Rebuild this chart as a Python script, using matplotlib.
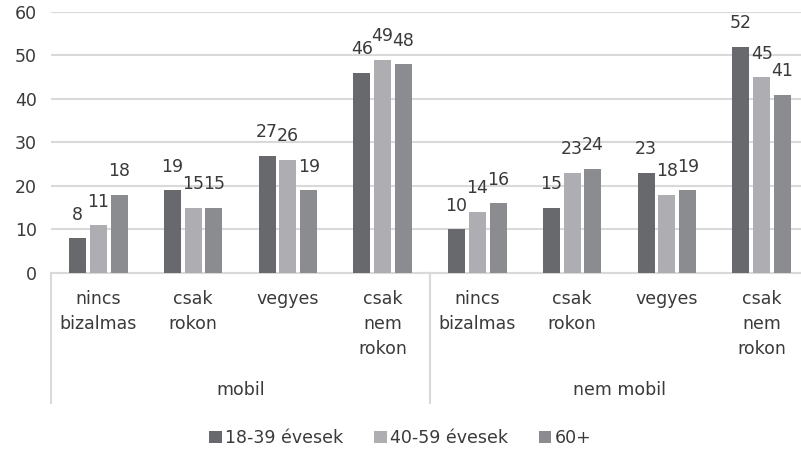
import numpy as np
import matplotlib
matplotlib.use("Agg")
import matplotlib.pyplot as plt
from matplotlib.transforms import blended_transform_factory

plt.rcParams["font.family"] = ["DejaVu Sans"]

# data
groups = ["mobil", "nem mobil"]
categories = ["nincs\nbizalmas", "csak\nrokon", "vegyes", "csak\nnem\nrokon"] * 2
series_names = ["18-39 évesek", "40-59 évesek", "60+"]
young = [8, 19, 27, 46, 10, 15, 23, 52]
middle = [11, 15, 26, 49, 14, 23, 18, 45]
old = [18, 15, 19, 48, 16, 24, 19, 41]
yticks = [0, 10, 20, 30, 40, 50, 60]

colors = ["#68696d", "#aeaeb2", "#8b8c90"]
text_color = "#3a3a3a"
grid_color = "#d9d9d9"
fs = 12.5

fig = plt.figure(figsize=(8.01, 4.51), dpi=100)
ax = fig.add_axes([51 / 801, 0.3947, 758 / 801, 0.5787])

x = np.arange(len(categories))
width = 0.18
step = 0.22
for i, (vals, name, col) in enumerate(zip([young, middle, old], series_names, colors)):
    pos = x + (i - 1) * step
    ax.bar(pos, vals, width, color=col, label=name, zorder=3)
    for px, v in zip(pos, vals):
        ax.annotate(str(v), (px, v), xytext=(0, 17), textcoords="offset points",
                    ha="center", va="center", fontsize=fs, color=text_color)

ax.set_xlim(-0.5, len(categories) - 0.5)
ax.set_ylim(0, 60)
ax.set_yticks(yticks)
ax.tick_params(axis="y", length=0, pad=10, labelsize=fs, labelcolor=text_color)
ax.set_xticks([])
ax.yaxis.grid(True, color=grid_color, linewidth=1.5, zorder=0)
for s in ["top", "right", "left"]:
    ax.spines[s].set_visible(False)
ax.spines["bottom"].set_color(grid_color)
ax.spines["bottom"].set_linewidth(1.5)

# category and group labels below the axis
trans = blended_transform_factory(ax.transData, ax.transAxes)
for xi, lab in zip(x, categories):
    ax.text(xi, -0.065, lab, transform=trans, ha="center", va="top",
            fontsize=fs, color=text_color, linespacing=1.5)
for gi, g in enumerate(groups):
    ax.text(gi * 4 + 1.5, -0.45, g, transform=trans, ha="center", va="center",
            fontsize=fs, color=text_color)
for sx in [-0.5, 3.5, 7.5]:
    ax.plot([sx, sx], [0, -0.5], transform=trans, color=grid_color,
            linewidth=1.5, clip_on=False)

fig.legend(loc="center", bbox_to_anchor=(0.5, 1 - 438 / 451), ncol=3, frameon=False,
           handlelength=0.7, handleheight=0.7, handletextpad=0.2, columnspacing=1.8,
           fontsize=fs, labelcolor=text_color)

fig.savefig("out.png", dpi=100)
